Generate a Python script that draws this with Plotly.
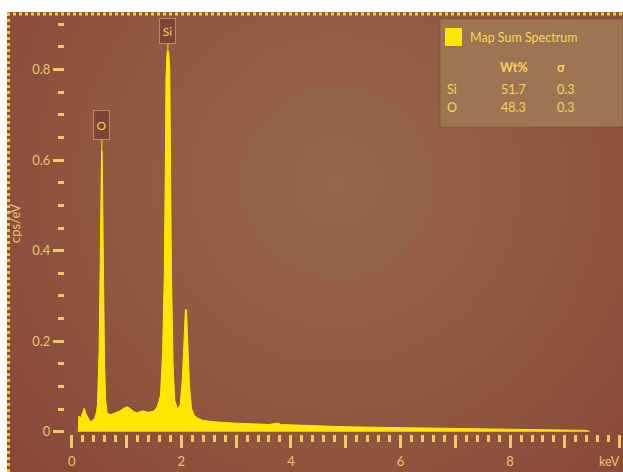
import base64
import plotly.graph_objects as go

# ---------------- data ----------------
energy_kev = [0.12, 0.13, 0.16, 0.20, 0.23, 0.26, 0.30, 0.34, 0.38, 0.42, 0.45, 0.47,
              0.50, 0.515, 0.53, 0.545, 0.555, 0.57, 0.585, 0.60, 0.62, 0.65, 0.72,
              0.80, 0.88, 0.95, 1.02, 1.08, 1.14, 1.20, 1.26, 1.32, 1.38, 1.44, 1.50,
              1.56, 1.62, 1.66, 1.69, 1.71, 1.72, 1.74, 1.77, 1.79, 1.805, 1.82, 1.85,
              1.88, 1.93, 1.98, 2.02, 2.05, 2.075, 2.095, 2.12, 2.15, 2.19, 2.24, 2.30,
              2.40, 2.60, 2.80, 3.00, 3.20, 3.40, 3.60, 3.70, 3.76, 3.82, 4.00, 4.50,
              5.00, 5.50, 6.00, 6.50, 7.00, 7.50, 8.00, 8.50, 9.00, 9.40, 9.45]
cps_per_ev = [0.0, 0.035, 0.030, 0.045, 0.052, 0.040, 0.030, 0.022, 0.025, 0.030, 0.042, 0.060,
              0.18, 0.35, 0.55, 0.62, 0.62, 0.50, 0.30, 0.15, 0.07, 0.040, 0.038,
              0.042, 0.046, 0.052, 0.055, 0.050, 0.044, 0.042, 0.045, 0.046, 0.043, 0.044, 0.046,
              0.055, 0.08, 0.18, 0.35, 0.60, 0.78, 0.84, 0.84, 0.80, 0.60, 0.35, 0.15,
              0.07, 0.050, 0.060, 0.12, 0.22, 0.27, 0.27, 0.20, 0.10, 0.05, 0.036, 0.030,
              0.025, 0.022, 0.020, 0.019, 0.018, 0.017, 0.016, 0.018, 0.019, 0.016, 0.015, 0.013,
              0.011, 0.010, 0.009, 0.008, 0.007, 0.007, 0.006, 0.005, 0.004, 0.003, 0.0]

peak_labels = ["O", "Si"]
peak_energy = [0.55, 1.755]
peak_height = [0.62, 0.84]

x_tick_vals = [0, 1, 2, 3, 4, 5, 6, 7, 8, 9, 10]
x_tick_text = ["0", "", "2", "", "4", "", "6", "", "8", "", ""]
y_tick_vals = [0, 0.2, 0.4, 0.6, 0.8]
y_tick_text = ["0", "0.2", "0.4", "0.6", "0.8"]

legend_title = "Map Sum Spectrum"
table_header = ["Wt%", "σ"]
table_elements = ["Si", "O"]
table_wt = ["51.7", "48.3"]
table_sigma = ["0.3", "0.3"]

# ---------------- geometry helpers ----------------
W, H = 623, 472
L, R, T, B = 65, 0, 13, 38
PW, PH = W - L - R, H - T - B
Y0, Y1 = -0.005, 0.925


def px(xp):
    return (xp - L) / PW


def py(yp):
    return (H - B - yp) / PH


YEL = "#FFE600"
TICK = "#F0C963"
LAB = "#EAC274"
FONT = "Lato"

# background radial gradient as svg
svg = (
    "<svg xmlns='http://www.w3.org/2000/svg' width='616' height='460' viewBox='0 0 616 460' "
    "preserveAspectRatio='none'><defs><radialGradient id='g' cx='330' cy='170' r='430' "
    "gradientUnits='userSpaceOnUse'><stop offset='0' stop-color='#96674A'/>"
    "<stop offset='0.55' stop-color='#8F5840'/><stop offset='1' stop-color='#884838'/>"
    "</radialGradient></defs><rect width='616' height='460' fill='url(#g)'/></svg>"
)
svg_uri = "data:image/svg+xml;base64," + base64.b64encode(svg.encode()).decode()

fig = go.Figure()
fig.add_trace(go.Scatter(
    x=energy_kev, y=cps_per_ev, mode="lines", fill="tozeroy",
    line=dict(color=YEL, width=1), fillcolor=YEL, hoverinfo="skip", showlegend=False,
))

fig.add_layout_image(dict(
    source=svg_uri, xref="paper", yref="paper",
    x=px(7), y=py(12), sizex=(W - 7) / PW, sizey=(H - 12) / PH,
    xanchor="left", yanchor="top", sizing="stretch", layer="below",
))

shapes = [
    # top & left dotted selection borders
    dict(type="line", xref="paper", yref="paper", x0=px(7), x1=px(623), y0=py(14), y1=py(14),
         line=dict(color="#F2D23A", width=3, dash="dot")),
    dict(type="line", xref="paper", yref="paper", x0=px(8.5), x1=px(8.5), y0=py(13), y1=py(472),
         line=dict(color="#E8C83A", width=3, dash="dot")),
    # legend panel
    dict(type="rect", xref="paper", yref="paper", x0=px(440), x1=px(623), y0=py(19), y1=py(127),
         fillcolor="#9E7552", line=dict(color="rgba(125,80,55,0.6)", width=1)),
    dict(type="rect", xref="paper", yref="paper", x0=px(445), x1=px(462), y0=py(28), y1=py(46),
         fillcolor=YEL, line=dict(width=0)),
]

annotations = []
# peak tags
tag_box_centers = [125, 31]
tag_heights = [26, 22]
for lab, e, h, cy, th in zip(peak_labels, peak_energy, peak_height, tag_box_centers, tag_heights):
    head_px = (H - B) - (h - Y0) / (Y1 - Y0) * PH
    annotations.append(dict(
        x=e, y=h, xref="x", yref="y", text=lab, showarrow=True, arrowhead=0,
        arrowwidth=1, arrowcolor=YEL, ax=0, ay=-(head_px - cy),
        font=dict(family=FONT, size=12, color="#F5D04E"),
        bgcolor="#7E4435", bordercolor="#BD8A5E", borderwidth=1, borderpad=1,
        width=13, height=th,
    ))

lt = dict(family=FONT, size=12.5, color="#F7D45A")
annotations.append(dict(xref="paper", yref="paper", x=px(468), y=py(38), text=legend_title,
                        showarrow=False, xanchor="left", yanchor="middle", font=lt))
annotations.append(dict(xref="paper", yref="paper", x=px(498), y=py(67), text="<b>" + table_header[0] + "</b>",
                        showarrow=False, xanchor="left", yanchor="middle", font=lt))
annotations.append(dict(xref="paper", yref="paper", x=px(555), y=py(67), text="<b>" + table_header[1] + "</b>",
                        showarrow=False, xanchor="left", yanchor="middle", font=lt))
row_y = [89, 108]
for el, wt, sg, ry in zip(table_elements, table_wt, table_sigma, row_y):
    annotations.append(dict(xref="paper", yref="paper", x=px(445), y=py(ry), text=el,
                            showarrow=False, xanchor="left", yanchor="middle", font=lt))
    annotations.append(dict(xref="paper", yref="paper", x=px(499), y=py(ry), text=wt,
                            showarrow=False, xanchor="left", yanchor="middle", font=lt))
    annotations.append(dict(xref="paper", yref="paper", x=px(555), y=py(ry), text=sg,
                            showarrow=False, xanchor="left", yanchor="middle", font=lt))

# axis titles
annotations.append(dict(xref="paper", yref="paper", x=px(15), y=py(224), text="cps/eV", textangle=-90,
                        showarrow=False, xanchor="center", yanchor="middle",
                        font=dict(family=FONT, size=13, color=LAB)))
annotations.append(dict(xref="paper", yref="paper", x=px(622), y=py(461), text="keV",
                        showarrow=False, xanchor="right", yanchor="middle",
                        font=dict(family=FONT, size=12.5, color=LAB)))

fig.update_layout(
    width=W, height=H,
    margin=dict(l=L, r=R, t=T, b=B, pad=0),
    paper_bgcolor="white", plot_bgcolor="rgba(0,0,0,0)",
    shapes=shapes, annotations=annotations,
    font=dict(family=FONT, size=13, color=LAB),
    xaxis=dict(
        range=[(L - 71.7) / 54.8, (W - 71.7) / 54.8], showgrid=False, zeroline=False,
        showline=False, tickmode="array", tickvals=x_tick_vals, ticktext=x_tick_text,
        ticks="outside", ticklen=13, tickwidth=3, tickcolor=TICK, ticklabelstandoff=2,
        tickfont=dict(family=FONT, size=13, color=LAB),
        minor=dict(dtick=0.2, tick0=0, ticks="outside", ticklen=7, tickwidth=3, tickcolor=TICK, showgrid=False),
        fixedrange=True,
    ),
    yaxis=dict(
        range=[Y0, Y1], showgrid=False, zeroline=False, showline=False,
        tickmode="array", tickvals=y_tick_vals, ticktext=y_tick_text,
        ticks="outside", ticklen=11, tickwidth=3, tickcolor=TICK,
        tickfont=dict(family=FONT, size=13, color=LAB),
        minor=dict(dtick=0.05, tick0=0, ticks="outside", ticklen=6, tickwidth=3, tickcolor=TICK, showgrid=False),
        fixedrange=True,
    ),
)

fig.write_html("out.html")
